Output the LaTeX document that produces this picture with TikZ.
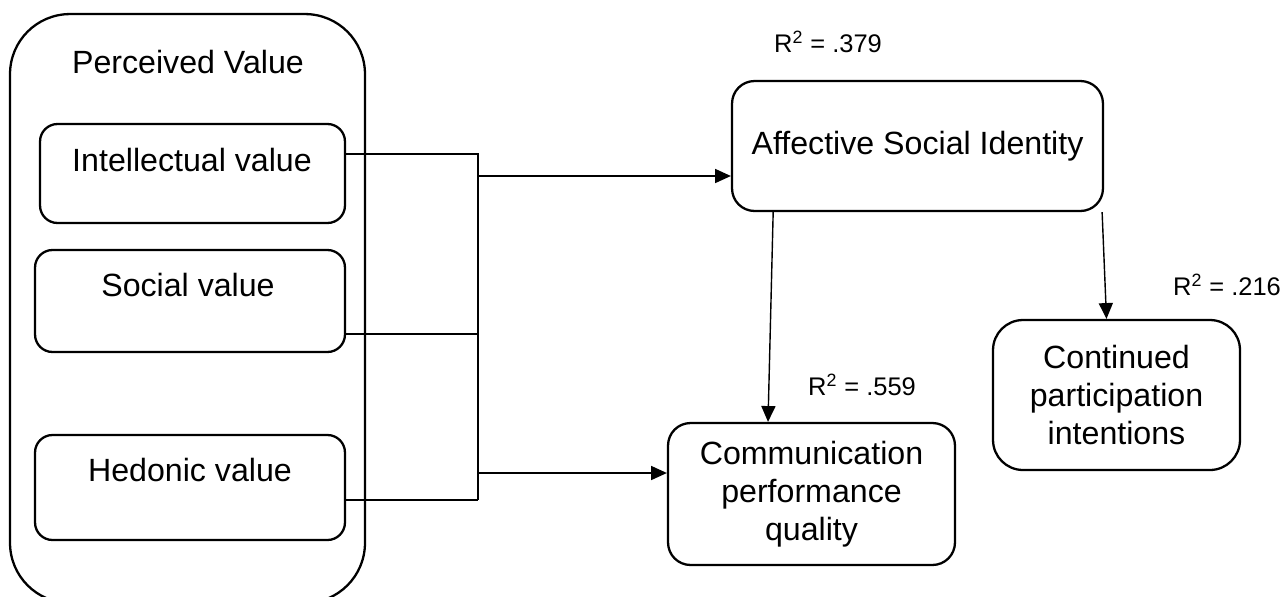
\documentclass[tikz,border=0pt]{standalone}
\usepackage{fontspec}
\setmainfont{Liberation Sans}
\usetikzlibrary{arrows.meta, positioning}

\tikzset{
    box/.style = {draw, line width=1.3pt, rounded corners=0.35cm, font=\fontsize{18.3}{21.5}\selectfont, align=center},
    txt/.style = {font=\fontsize{18.3}{21.5}\selectfont},
    rsq/.style = {font=\fontsize{14.5}{17}\selectfont},
    link/.style = {line width=0.8pt},
    arrow/.style = {line width=0.8pt, -{Triangle[length=9pt, width=8pt]}}
}

\begin{document}
\begin{tikzpicture}[x=0.02cm, y=-0.02cm]
                \useasboundingbox (0,0) rectangle (1288,596);

                % perceived value block
                \node (pv) [box, rounded corners=1.2cm, minimum width=7.1cm, minimum height=11.78cm] at (187.5,308.5) {};
                \node (pvt) [txt] at (188,62) {Perceived Value};

                \node (intel) [box, minimum width=6.1cm, minimum height=1.98cm] at (192.5,173.5) {};
                \node (social) [box, minimum width=6.2cm, minimum height=2.04cm] at (190,301) {};
                \node (hedonic) [box, minimum width=6.2cm, minimum height=2.1cm] at (190,487.5) {};
                \node (intelt) [txt] at (192,160) {Intellectual value};
                \node (socialt) [txt] at (188,285) {Social value};
                \node (hedonict) [txt] at (190,470) {Hedonic value};

                % outcomes
                \node (asi) [box, rounded corners=0.45cm, minimum width=7.42cm, minimum height=2.6cm] at (917.5,146) {Affective Social Identity};
                \node (cpq) [box, rounded corners=0.45cm, minimum width=5.74cm, minimum height=2.84cm] at (811.5,494) {Communication\\performance\\quality};
                \node (cpi) [box, rounded corners=0.6cm, minimum width=4.94cm, minimum height=3cm] at (1116.5,395) {Continued\\participation\\intentions};

                \node (r1) [rsq] at (828,42) {R\textsuperscript{2} = .379};
                \node (r2) [rsq] at (862,385) {R\textsuperscript{2} = .559};
                \node (r3) [rsq] at (1227,285) {R\textsuperscript{2} = .216};

                % connectors
                \coordinate (b1) at (478,154);
                \coordinate (b2) at (478,334);
                \coordinate (b3) at (478,500);
                \coordinate (up) at (478,176);
                \coordinate (down) at (478,473);

                \draw [link] (intel.east |- b1) -- (b1) -- (b3);
                \draw [link] (social.east |- b2) -- (b2);
                \draw [link] (hedonic.east |- b3) -- (b3);

                \draw [arrow] (up) -- (asi.west |- up);
                \draw [arrow] (down) -- (cpq.west |- down);
                \draw [arrow] ([xshift=-6.62cm]asi.south east) -- ([xshift=-0.87cm]cpq.north);
                \draw [arrow] ([xshift=-0.04cm]asi.south east) -- ([xshift=-0.2cm]cpi.north);
            \end{tikzpicture}
\end{document}
